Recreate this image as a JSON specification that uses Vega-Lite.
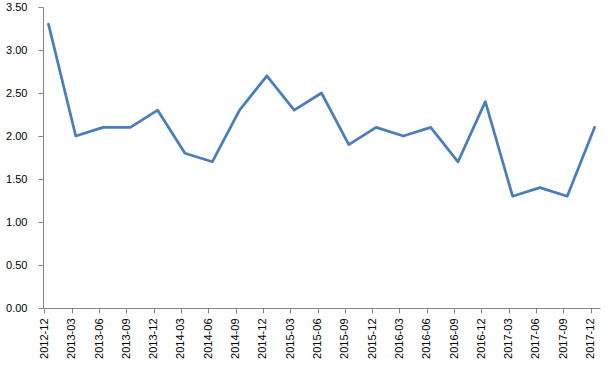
{
  "$schema": "https://vega.github.io/schema/vega-lite/v6.json",
  "width": 557,
  "height": 301,
  "autosize": "none",
  "padding": {"left": 43, "top": 7, "right": 9, "bottom": 57},
  "background": "white",
  "config": {"view": {"stroke": null}},
  "data": {"values": [
    {"q": "2012-12", "v": 3.3},
    {"q": "2013-03", "v": 2.0},
    {"q": "2013-06", "v": 2.1},
    {"q": "2013-09", "v": 2.1},
    {"q": "2013-12", "v": 2.3},
    {"q": "2014-03", "v": 1.8},
    {"q": "2014-06", "v": 1.7},
    {"q": "2014-09", "v": 2.3},
    {"q": "2014-12", "v": 2.7},
    {"q": "2015-03", "v": 2.3},
    {"q": "2015-06", "v": 2.5},
    {"q": "2015-09", "v": 1.9},
    {"q": "2015-12", "v": 2.1},
    {"q": "2016-03", "v": 2.0},
    {"q": "2016-06", "v": 2.1},
    {"q": "2016-09", "v": 1.7},
    {"q": "2016-12", "v": 2.4},
    {"q": "2017-03", "v": 1.3},
    {"q": "2017-06", "v": 1.4},
    {"q": "2017-09", "v": 1.3},
    {"q": "2017-12", "v": 2.1}
  ]},
  "mark": {"type": "line", "color": "#4a7ebb", "strokeWidth": 2.75, "strokeJoin": "round", "strokeCap": "round"},
  "encoding": {
    "x": {
      "field": "q", "type": "ordinal", "sort": null,
      "scale": {"type": "point", "padding": 0.2},
      "axis": {
        "title": null, "labelAngle": -90, "labelAlign": "right", "labelBaseline": "middle",
        "labelFont": "Liberation Sans", "labelFontSize": 11, "labelColor": "#000000",
        "labelPadding": 5, "tickSize": 5, "tickOffset": -4, "tickColor": "#868686",
        "domainColor": "#868686", "domainWidth": 1, "tickWidth": 1, "grid": false
      }
    },
    "y": {
      "field": "v", "type": "quantitative",
      "scale": {"domain": [0, 3.5], "nice": false, "zero": true},
      "axis": {
        "title": null, "values": [0, 0.5, 1, 1.5, 2, 2.5, 3, 3.5], "format": ".2f",
        "labelFont": "Liberation Sans", "labelFontSize": 11, "labelColor": "#000000",
        "labelPadding": 11, "tickSize": 5, "tickColor": "#868686",
        "domainColor": "#868686", "grid": false
      }
    }
  }
}
